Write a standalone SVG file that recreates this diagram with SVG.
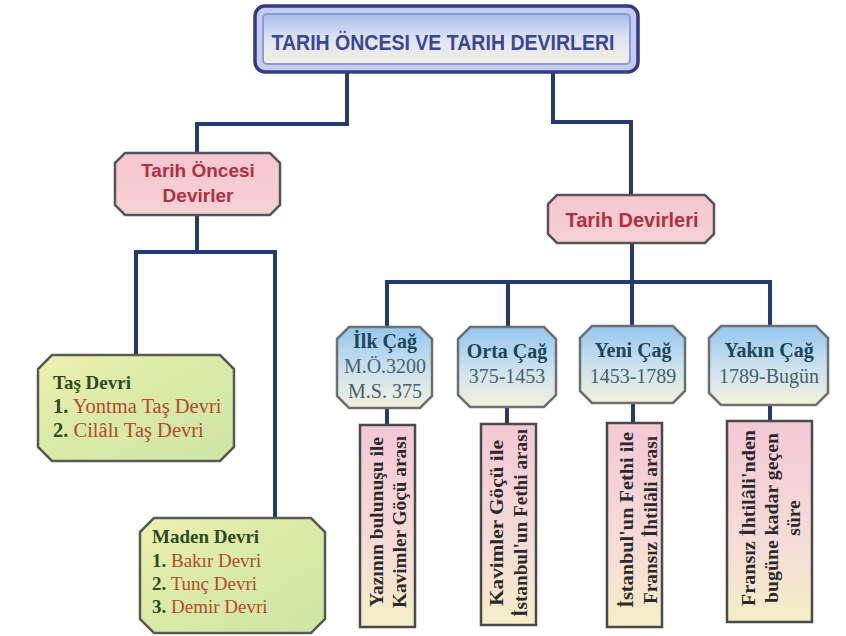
<svg xmlns="http://www.w3.org/2000/svg" width="846" height="636" viewBox="0 0 846 636">
<defs>
<linearGradient id="gTitle" x1="0" y1="0" x2="0" y2="1">
<stop offset="0" stop-color="#a9bde9"/><stop offset="0.5" stop-color="#dfe5f4"/><stop offset="1" stop-color="#f3efe2"/>
</linearGradient>
<linearGradient id="gPink" x1="0" y1="0" x2="0" y2="1">
<stop offset="0" stop-color="#f6c6d0"/><stop offset="1" stop-color="#f4d2d6"/>
</linearGradient>
<linearGradient id="gGreen" x1="0" y1="0" x2="1" y2="1">
<stop offset="0" stop-color="#eef0b0"/><stop offset="0.5" stop-color="#d8eaa6"/><stop offset="1" stop-color="#cfe6a6"/>
</linearGradient>
<linearGradient id="gBlue" x1="0" y1="0" x2="0" y2="1">
<stop offset="0" stop-color="#95c6ee"/><stop offset="0.55" stop-color="#cfe2ef"/><stop offset="1" stop-color="#f4f1dc"/>
</linearGradient>
<linearGradient id="gVert" x1="0" y1="0" x2="0" y2="1">
<stop offset="0" stop-color="#f4c8d6"/><stop offset="0.6" stop-color="#f6dcd8"/><stop offset="1" stop-color="#f3efc6"/>
</linearGradient>
<style>
.conn{fill:none;stroke:#233a72;stroke-width:4;stroke-linejoin:miter}
.pinkbox{fill:url(#gPink);stroke:#555;stroke-width:2.5}
.greenbox{fill:url(#gGreen);stroke:#5a5a55;stroke-width:2.5}
.bluebox{fill:url(#gBlue);stroke:#6c7070;stroke-width:2.5}
.vbox{fill:url(#gVert);stroke:#4a4a4a;stroke-width:2.5}
.hd{font-family:"Liberation Sans",Arial,sans-serif;font-weight:bold;fill:#b03040;text-anchor:middle}
.sr{font-family:"Liberation Serif","Times New Roman",serif;font-size:19px}
.big{font-size:20.5px}
.ttl{font-weight:bold;fill:#2f4a1c}
.num{font-weight:bold;fill:#2f4a1c}
.itm{fill:#b8482e}
.era{font-family:"Liberation Serif","Times New Roman",serif;font-size:20px;text-anchor:middle}
.eraT{font-weight:bold;fill:#1d4657}
.eraD{fill:#46626e}
.vt{font-family:"Liberation Serif","Times New Roman",serif;font-size:19.5px;font-weight:bold;fill:#2a2a2a;text-anchor:middle}
</style>
</defs>
<rect width="846" height="636" fill="#ffffff"/>

<g id="connectors">
<path class="conn" d="M347,72 V124 H197 V153"/>
<path class="conn" d="M553,72 V122 H631 V195"/>
<path class="conn" d="M197,215 V252"/>
<path class="conn" d="M136,355 V252 H275 V518"/>
<path class="conn" d="M632,243 V282"/>
<path class="conn" d="M387,327 V282 H770 V326"/>
<path class="conn" d="M508,282 V327"/>
<path class="conn" d="M632,282 V326"/>
<path class="conn" d="M387,408 V425"/>
<path class="conn" d="M507,407 V424"/>
<path class="conn" d="M633,403 V423"/>
<path class="conn" d="M770,405 V421"/>
</g>

<g id="title">
<rect x="255" y="6" width="383" height="66" rx="10" fill="#c3cdef" stroke="#353a86" stroke-width="3.5"/>
<rect x="263" y="14" width="367" height="50" rx="4" fill="url(#gTitle)" stroke="#8c9ad6" stroke-width="2"/>
<text x="443" y="50" font-family="'Liberation Sans',Arial,sans-serif" font-weight="bold" font-size="22" fill="#3a4796" text-anchor="middle" textLength="343" lengthAdjust="spacingAndGlyphs">TARIH ÖNCESI VE TARIH DEVIRLERI</text>
</g>

<g id="tarih-oncesi">
<polygon class="pinkbox" points="125,153 270,153 280,163 280,205 270,215 125,215 115,205 115,163"/>
<text class="hd" x="198" y="177" font-size="19">Tarih Öncesi</text>
<text class="hd" x="198" y="202" font-size="19">Devirler</text>
</g>

<g id="tarih-devirleri">
<polygon class="pinkbox" points="557,195 705,195 714,204 714,234 705,243 557,243 548,234 548,204"/>
<text class="hd" x="632" y="227" font-size="20">Tarih Devirleri</text>
</g>

<g id="tas-devri">
<polygon class="greenbox" points="52,355 220,355 234,369 234,447 220,461 52,461 38,447 38,369"/>
<text class="sr ttl" x="53" y="389">Taş Devri</text>
<text class="sr big" x="53" y="413"><tspan class="num">1.</tspan><tspan class="itm"> Yontma Taş Devri</tspan></text>
<text class="sr big" x="53" y="437"><tspan class="num">2.</tspan><tspan class="itm"> Cilâlı Taş Devri</tspan></text>
</g>

<g id="maden-devri">
<polygon class="greenbox" points="154,518 311,518 325,532 325,619 311,633 154,633 140,619 140,532"/>
<text class="sr ttl" x="152" y="543">Maden Devri</text>
<text class="sr" x="152" y="567"><tspan class="num">1.</tspan><tspan class="itm"> Bakır Devri</tspan></text>
<text class="sr" x="152" y="590"><tspan class="num">2.</tspan><tspan class="itm"> Tunç Devri</tspan></text>
<text class="sr" x="152" y="613"><tspan class="num">3.</tspan><tspan class="itm"> Demir Devri</tspan></text>
</g>

<g id="ilk-cag">
<polygon class="bluebox" points="349,327 420,327 432,339 432,396 420,408 349,408 337,396 337,339"/>
<text class="era eraT" x="385" y="348">İlk Çağ</text>
<text class="era eraD" x="385" y="373">M.Ö.3200</text>
<text class="era eraD" x="385" y="398">M.S. 375</text>
</g>

<g id="orta-cag">
<polygon class="bluebox" points="470,327 544,327 556,339 556,395 544,407 470,407 458,395 458,339"/>
<text class="era eraT" x="507" y="358">Orta Çağ</text>
<text class="era eraD" x="507" y="383">375-1453</text>
</g>

<g id="yeni-cag">
<polygon class="bluebox" points="592,326 673,326 685,338 685,391 673,403 592,403 580,391 580,338"/>
<text class="era eraT" x="633" y="357">Yeni Çağ</text>
<text class="era eraD" x="633" y="383">1453-1789</text>
</g>

<g id="yakin-cag">
<polygon class="bluebox" points="721,326 816,326 828,338 828,393 816,405 721,405 709,393 709,338"/>
<text class="era eraT" x="769" y="357">Yakın Çağ</text>
<text class="era eraD" x="769" y="383">1789-Bugün</text>
</g>

<g id="ilk-cag-desc">
<rect class="vbox" x="360" y="425" width="55" height="202"/>
<g transform="translate(387.5,522) rotate(-90)">
<text class="vt" x="0" y="-4.5" textLength="170" lengthAdjust="spacingAndGlyphs">Yazının bulunuşu ile</text>
<text class="vt" x="0" y="18.5" textLength="172" lengthAdjust="spacingAndGlyphs">Kavimler Göçü arası</text>
</g>
</g>

<g id="orta-cag-desc">
<rect class="vbox" x="481" y="424" width="55" height="201"/>
<g transform="translate(508.5,523) rotate(-90)">
<text class="vt" x="0" y="-5.5" textLength="166" lengthAdjust="spacingAndGlyphs">Kavimler Göçü ile</text>
<text class="vt" x="0" y="18.5" textLength="188" lengthAdjust="spacingAndGlyphs">İstanbul'un Fethi arası</text>
</g>
</g>

<g id="yeni-cag-desc">
<rect class="vbox" x="607" y="423" width="55" height="204"/>
<g transform="translate(634.5,520) rotate(-90)">
<text class="vt" x="0" y="-1.5" textLength="176" lengthAdjust="spacingAndGlyphs">İstanbul'un Fethi ile</text>
<text class="vt" x="0" y="22.5" textLength="168" lengthAdjust="spacingAndGlyphs">Fransız İhtilâli arası</text>
</g>
</g>

<g id="yakin-cag-desc">
<rect class="vbox" x="727" y="421" width="85" height="201"/>
<g transform="translate(769.5,518) rotate(-90)">
<text class="vt" x="0" y="-14.5" textLength="176" lengthAdjust="spacingAndGlyphs">Fransız İhtilâli'nden</text>
<text class="vt" x="0" y="8.5" textLength="170" lengthAdjust="spacingAndGlyphs">bugüne kadar geçen</text>
<text class="vt" x="0" y="30.5">süre</text>
</g>
</g>
</svg>
